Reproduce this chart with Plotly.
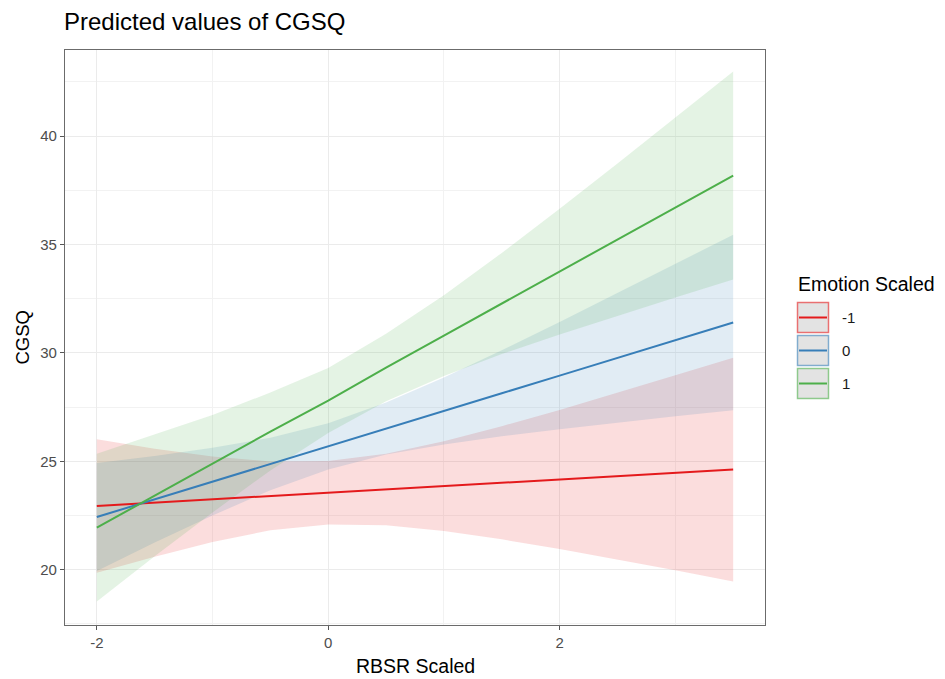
import plotly.graph_objects as go

# ---- data ----
rbsr = [-2.0, -1.5, -1.0, -0.5, 0.0, 0.5, 1.0, 1.5, 2.0, 2.5, 3.0, 3.5]

groups = ["-1", "0", "1"]

fit_m1 = [22.94, 23.09, 23.25, 23.40, 23.55, 23.70, 23.86, 24.01, 24.16, 24.31, 24.47, 24.62]
low_m1 = [19.86, 20.60, 21.28, 21.82, 22.09, 22.05, 21.79, 21.40, 20.95, 20.47, 19.97, 19.46]
upp_m1 = [26.02, 25.58, 25.22, 24.99, 25.01, 25.35, 25.93, 26.62, 27.37, 28.16, 28.97, 29.78]

fit_0 = [22.43, 23.25, 24.06, 24.88, 25.69, 26.51, 27.32, 28.14, 28.95, 29.77, 30.59, 31.40]
low_0 = [19.94, 21.25, 22.50, 23.67, 24.62, 25.31, 25.78, 26.16, 26.48, 26.79, 27.08, 27.35]
upp_0 = [24.92, 25.25, 25.62, 26.09, 26.76, 27.71, 28.86, 30.12, 31.42, 32.76, 34.10, 35.45]

fit_1 = [21.94, 23.42, 24.89, 26.37, 27.80, 29.32, 30.80, 32.28, 33.75, 35.23, 36.71, 38.18]
low_1 = [18.53, 20.62, 22.64, 24.58, 26.30, 27.77, 28.94, 29.95, 30.85, 31.72, 32.56, 33.38]
upp_1 = [25.35, 26.23, 27.14, 28.17, 29.30, 30.88, 32.66, 34.61, 36.65, 38.74, 40.86, 42.98]

x_ticks = [-2, 0, 2]
x_ticktext = ["-2", "0", "2"]
y_ticks = [20, 25, 30, 35, 40]
y_ticktext = ["20", "25", "30", "35", "40"]

# ---- styling ----
colors = {"-1": (228, 26, 28), "0": (55, 126, 184), "1": (77, 175, 74)}
series = {
    "-1": (fit_m1, low_m1, upp_m1),
    "0": (fit_0, low_0, upp_0),
    "1": (fit_1, low_1, upp_1),
}

OFF = 8  # default page body margin
W, H = 945 - OFF, 679 - OFF
L, T = 65 - OFF, 50 - OFF
PR, PB = 765 - OFF, 625 - OFF
R, B = W - PR, H - PB
PW, PH = PR - L, PB - T

fig = go.Figure()

# ribbons first
for g in groups:
    fit, low, upp = series[g]
    r, gg, b = colors[g]
    fig.add_trace(go.Scatter(x=rbsr, y=low, mode="lines", line=dict(width=0),
                             showlegend=False, hoverinfo="skip"))
    fig.add_trace(go.Scatter(x=rbsr, y=upp, mode="lines", line=dict(width=0),
                             fill="tonexty", fillcolor=f"rgba({r},{gg},{b},0.15)",
                             showlegend=False, hoverinfo="skip"))
# lines on top
for g in groups:
    fit, low, upp = series[g]
    r, gg, b = colors[g]
    fig.add_trace(go.Scatter(x=rbsr, y=fit, mode="lines",
                             line=dict(color=f"rgb({r},{gg},{b})", width=2),
                             name=g, showlegend=False))

# page px -> paper coords
def px_x(px):
    return (px - OFF - L) / PW

def px_y(py):
    return 1 - (py - OFF - T) / PH

shapes = []
annotations = []

# manual legend
key_tops = [302, 335, 368]
for g, top in zip(groups, key_tops):
    r, gg, b = colors[g]
    shapes.append(dict(type="rect", xref="paper", yref="paper",
                       x0=px_x(797.5), x1=px_x(828.5), y0=px_y(top + 30.5), y1=px_y(top + 0.5),
                       fillcolor="#e3e3e3",
                       line=dict(color=f"rgba({r},{gg},{b},0.6)", width=1.5)))
    shapes.append(dict(type="line", xref="paper", yref="paper",
                       x0=px_x(799), x1=px_x(827), y0=px_y(top + 15.5), y1=px_y(top + 15.5),
                       line=dict(color=f"rgb({r},{gg},{b})", width=2)))
    annotations.append(dict(text=g, xref="paper", yref="paper", x=px_x(840), y=px_y(top + 15.5),
                            xanchor="left", yanchor="middle", showarrow=False,
                            font=dict(size=15, color="#1a1a1a")))
annotations.append(dict(text="Emotion Scaled", xref="paper", yref="paper", x=px_x(796),
                        y=px_y(284), xanchor="left", yanchor="middle", showarrow=False,
                        font=dict(size=19.5, color="#000000")))

# axis titles
annotations.append(dict(text="RBSR Scaled", xref="paper", yref="paper", x=0.5, y=0,
                        xanchor="center", yanchor="middle", yshift=-41, showarrow=False,
                        font=dict(size=19.5, color="#000000")))
annotations.append(dict(text="CGSQ", xref="paper", yref="paper", x=0, y=0.5,
                        xanchor="center", yanchor="middle", xshift=-43, textangle=-90,
                        showarrow=False, font=dict(size=18.5, color="#000000")))

fig.update_layout(
    width=W, height=H,
    margin=dict(l=L, r=R, t=T, b=B),
    paper_bgcolor="white", plot_bgcolor="white",
    font=dict(family="Liberation Sans, Arial, sans-serif"),
    title=dict(text="Predicted values of CGSQ", x=(64 - OFF) / W, xref="container", xanchor="left",
               y=1 - (22 - OFF) / H, yref="container", yanchor="middle",
               font=dict(size=24, color="#000000")),
    showlegend=False,
    shapes=shapes,
    annotations=annotations,
)

fig.update_xaxes(
    range=[-2.275, 3.775], tickvals=x_ticks, ticktext=x_ticktext,
    showgrid=True, gridcolor="#EBEBEB", gridwidth=1,
    minor=dict(dtick=1, tick0=-1, showgrid=True, gridcolor="#F2F2F2", gridwidth=0.6),
    zeroline=False, showline=True, linecolor="#6b6b6b", linewidth=1.2, mirror=True,
    ticks="outside", ticklen=4, tickcolor="#555555", tickwidth=1,
    tickfont=dict(size=15, color="#4D4D4D"),
)
fig.update_yaxes(
    range=[17.45, 43.97], tickvals=y_ticks, ticktext=y_ticktext,
    showgrid=True, gridcolor="#EBEBEB", gridwidth=1,
    minor=dict(dtick=2.5, tick0=0, showgrid=True, gridcolor="#F2F2F2", gridwidth=0.6),
    zeroline=False, showline=True, linecolor="#6b6b6b", linewidth=1.2, mirror=True,
    ticks="outside", ticklen=4, tickcolor="#555555", tickwidth=1,
    tickfont=dict(size=15, color="#4D4D4D"),
)

fig.write_html("out.html")
